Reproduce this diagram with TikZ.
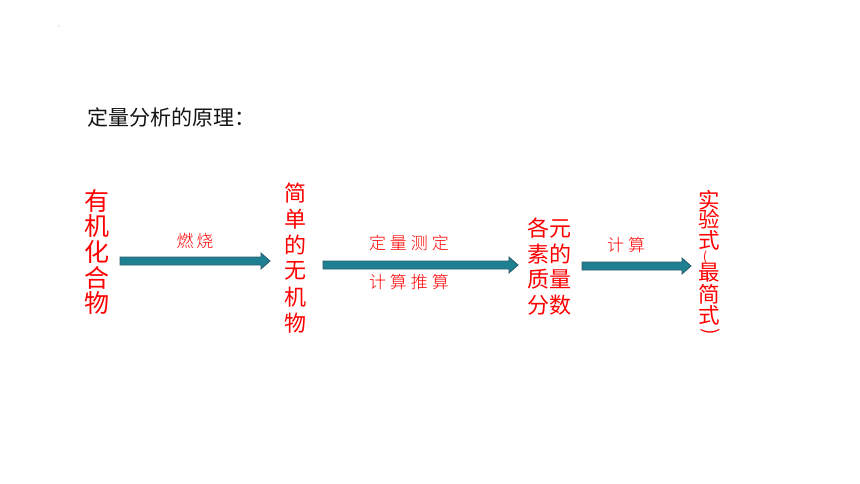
\documentclass[tikz,border=0pt]{standalone}
\usepackage{fontspec}
\setmainfont{Noto Sans CJK SC}
\newfontfamily\cjk{Noto Sans CJK SC}
\newfontfamily\cjklight{Noto Sans CJK SC Light}
\usetikzlibrary{calc}
\definecolor{arrfill}{RGB}{30,128,144}
\definecolor{arrdraw}{RGB}{44,92,112}
\definecolor{txtred}{RGB}{255,0,0}
\definecolor{titleblack}{RGB}{20,20,20}
\newcommand\blockarr[2]{%
  \draw[blockarrow] ($(#1)+(0,4)$) -- ($(#2)+(-9,4)$) -- ($(#2)+(-9,8)$) -- (#2)
    -- ($(#2)+(-9,-8)$) -- ($(#2)+(-9,-4)$) -- ($(#1)+(0,-4)$) -- cycle;}
\tikzset{
  titletext/.style={text=titleblack, font=\cjk\fontsize{21}{21}\selectfont, inner sep=0},
  bigred/.style={text=txtred, font=\cjk\fontsize{25}{25}\selectfont, inner sep=0},
  midred/.style={text=txtred, font=\cjk\fontsize{22}{22}\selectfont, inner sep=0},
  smallred/.style={text=txtred, font=\cjk\fontsize{21.5}{21.5}\selectfont, inner sep=0},
  parenred/.style={text=txtred, font=\cjk\fontsize{13}{13}\selectfont, inner sep=0},
  lbl/.style={text=txtred, font=\cjklight\fontsize{17}{17}\selectfont, inner sep=0},
  blockarrow/.style={fill=arrfill, draw=arrdraw, line width=0.8pt, line join=miter},
}
\begin{document}
\begin{tikzpicture}[x=1pt,y=-1pt]
\path[use as bounding box] (0,0) rectangle (860,484);
\fill[white] (0,0) rectangle (860,484);
\fill[gray!60] (59,26) circle (0.6);
\node[titletext, anchor=west] (title) at (87,117) {定量分析的原理：};
% column 1
\foreach \c [count=\i] in {有,机,化,合,物}
  \node[bigred] (c1-\i) at (97,{201+25.5*(\i-1)}) {\c};
% column 2
\foreach \c [count=\i] in {简,单,的,无,机,物}
  \node[midred] (c2-\i) at (295,{193+26*(\i-1)}) {\c};
% column 3
\node[midred] (c3-1) at (549,228) {各元};
\node[midred] (c3-2) at (549,253.7) {素的};
\node[midred] (c3-3) at (549,279.3) {质量};
\node[midred] (c3-4) at (549,305) {分数};
% column 4
\node[smallred] (c4-1) at (709,200) {实};
\node[smallred] (c4-2) at (709,219.5) {验};
\node[smallred] (c4-3) at (709,240) {式};
\node[parenred] (c4-4) at (705,257.5) {(};
\node[smallred] (c4-5) at (709,273) {最};
\node[smallred] (c4-6) at (709,294) {简};
\node[smallred] (c4-7) at (709,315) {式};
\node[parenred, rotate=-90, font=\cjk\fontsize{19}{19}\selectfont] (c4-8) at (710,331.5) {)};
% arrows
\coordinate (a1s) at (120,261); \coordinate (a1e) at (270,261);
\coordinate (a2s) at (323,265); \coordinate (a2e) at (518,265);
\coordinate (a3s) at (582,266); \coordinate (a3e) at (691,266);
\blockarr{a1s}{a1e}
\blockarr{a2s}{a2e}
\blockarr{a3s}{a3e}
% labels
\node[lbl] (l1) at (195,241) {燃\hspace{3pt}烧};
\node[lbl] (l2) at (409,243) {定\hspace{4pt}量\hspace{4pt}测\hspace{4pt}定};
\node[lbl] (l3) at (409,282) {计\hspace{4pt}算\hspace{4pt}推\hspace{4pt}算};
\node[lbl] (l4) at (626,245) {计\hspace{4pt}算};
\end{tikzpicture}
\end{document}
